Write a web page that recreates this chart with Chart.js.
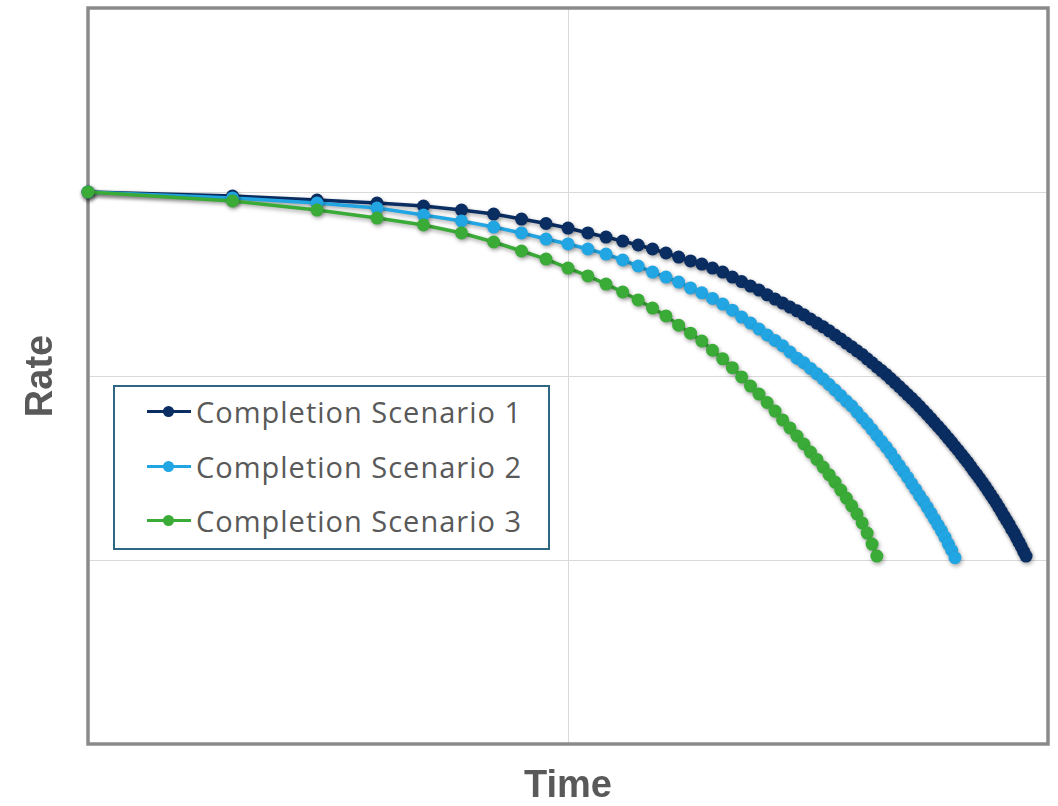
<!DOCTYPE html>
<html>
<head>
<meta charset="utf-8">
<title>Completion scenarios</title>
<script src="https://cdn.jsdelivr.net/npm/chart.js@4.4.1/dist/chart.umd.min.js"></script>
<style>
  html, body { margin: 0; padding: 0; background: #fff; }
  #wrap { position: relative; width: 1058px; height: 806px; }
  #legend {
    position: absolute; left: 113px; top: 385px; width: 437px; height: 165px;
    box-sizing: border-box; border: 2px solid #2f6682; background: #fff;
    font-family: "Open Sans", sans-serif; font-size: 29px; letter-spacing: 1px; color: #595959;
  }
  .row { position: absolute; left: 0; height: 30px; display: flex; align-items: center; white-space: nowrap; }
  .swatch { position: relative; width: 44px; height: 12px; margin-left: 32px; margin-right: 5px; }
  .swatch .ln { position: absolute; left: 0; right: 0; top: 4px; height: 3px; }
  .swatch .dot { position: absolute; left: 16px; top: 0; width: 11px; height: 11px; border-radius: 50%; }
  .row span.txt { line-height: 30px; }
</style>
</head>
<body>
<div id="wrap">
  <canvas id="rateChart" width="1058" height="806"></canvas>
  <div id="legend"></div>
</div>
<script>
// time steps (days), shared by all three scenarios
const days = [
  1, 2, 3, 4, 5, 6, 7, 8, 9, 10,
  11, 12, 13, 14, 15, 16, 17, 18, 19, 20,
  21, 22, 23, 24, 25, 26, 27, 28, 29, 30,
  31, 32, 33, 34, 35, 36, 37, 38, 39, 40,
  41, 42, 43, 44, 45, 46, 47, 48, 49, 50,
  51, 52, 53, 54, 55, 56, 57, 58, 59, 60,
  61, 62, 63, 64, 65, 66, 67, 68, 69, 70,
  71, 72, 73, 74, 75, 76, 77, 78, 79, 80,
  81, 82, 83, 84, 85, 86, 87, 88, 89, 90
];

const seriesNames = ["Completion Scenario 1", "Completion Scenario 2", "Completion Scenario 3"];

// rates per day
const scenario1 = [
  1000, 951, 905, 871, 839, 798, 759, 713, 674, 637,
  599, 569, 541, 515, 490, 466, 443, 422, 406, 386,
  367, 345, 326, 308, 293, 276, 262, 249, 237, 226,
  215, 204, 194, 185, 176, 167, 159, 151, 144, 137,
  131, 124, 118, 112, 107, 102, 96.8, 92.1, 87.6, 83.3,
  79.3, 75.6, 71.9, 68.4, 65.0, 61.8, 58.8, 55.9, 53.2, 50.7,
  48.2, 45.8, 43.6, 41.4, 39.5, 37.5, 35.7, 34.0, 32.3, 30.6,
  29.2, 27.8, 26.4, 25.1, 23.8, 22.6, 21.5, 20.4, 19.3, 18.3,
  17.3, 16.4, 15.6, 14.7, 14.0, 13.2, 12.5, 11.8, 11.1, 10.5
];
const scenario2 = [
  1000, 928, 871, 818, 750, 696, 645, 599, 555, 522,
  490, 460, 427, 396, 367, 345, 324, 301, 283, 264,
  246, 228, 209, 194, 180, 167, 156, 146, 135, 125,
  118, 110, 103, 96.3, 89.9, 83.9, 78.3, 73.1, 68.7, 63.7,
  59.1, 55.2, 51.2, 47.5, 44.1, 41.1, 38.1, 35.2, 32.6, 30.3,
  28.1, 26.0, 24.2, 22.4, 20.9, 19.4, 18.0, 16.7, 15.5, 14.4,
  13.3, 12.2, 11.3, 10.3
];
const scenario3 = [
  1000, 894, 798, 722, 662, 599, 535, 478, 432, 386,
  350, 316, 286, 259, 234, 212, 189, 171, 155, 138,
  124, 111, 98.8, 88.2, 79.8, 71.8, 64.5, 57.7, 52.2, 47.2,
  42.7, 38.6, 35.2, 32.0, 29.1, 26.5, 24.0, 21.7, 19.7, 17.8,
  15.9, 14.0, 12.2, 10.5
];

// gridline positions on the two log axes
const timeGrid = [1, 10, 100];
const rateGrid = [1, 10, 100, 1000, 10000];

const seriesColors = ["#0a2d62", "#22a6e3", "#3aab37"];

const allRates = [scenario1, scenario2, scenario3];
const datasets = allRates.map((rates, i) => ({
  label: seriesNames[i],
  data: rates.map((r, j) => ({ x: days[j], y: r })),
  borderColor: seriesColors[i],
  backgroundColor: seriesColors[i],
  borderWidth: 3.5,
  pointRadius: 6.5,
  pointBorderWidth: 0,
  pointHoverRadius: 6.5,
  tension: 0,
  clip: false,
  order: 3 - i // last scenario on top
}));

// grey box round the plot area
const plotFrame = {
  id: "plotFrame",
  beforeDatasetsDraw(chart) {
    const { ctx, chartArea: a } = chart;
    ctx.save();
    ctx.strokeStyle = "#8a8a8a";
    ctx.lineWidth = 3.5;
    ctx.strokeRect(a.left, a.top, a.right - a.left, a.bottom - a.top);
    ctx.restore();
  }
};

// soft drop shadow under each series
const lineShadow = {
  id: "lineShadow",
  beforeDatasetDraw(chart) {
    const ctx = chart.ctx;
    ctx.save();
    ctx.shadowColor = "rgba(0,0,0,0.35)";
    ctx.shadowBlur = 4;
    ctx.shadowOffsetX = 1;
    ctx.shadowOffsetY = 2;
  },
  afterDatasetDraw(chart) {
    chart.ctx.restore();
  }
};

const titleFont = { family: "'Liberation Sans', Arial, sans-serif", size: 38, weight: "bold", lineHeight: 1 };

const chart = new Chart(document.getElementById("rateChart"), {
  type: "line",
  data: { datasets: datasets },
  options: {
    responsive: false,
    animation: false,
    events: [],
    layout: { padding: { top: 8, right: 10, left: 0, bottom: 0 } },
    plugins: {
      legend: { display: false },
      tooltip: { enabled: false }
    },
    scales: {
      x: {
        type: "logarithmic",
        min: 1,
        max: 100,
        afterBuildTicks: axis => { axis.ticks = timeGrid.map(v => ({ value: v })); },
        ticks: { display: false },
        grid: { color: "#d9d9d9", lineWidth: 1, drawTicks: false },
        border: { display: false },
        title: { display: true, text: "Time", color: "#595959", font: titleFont, padding: { top: 24, bottom: 0 } }
      },
      y: {
        type: "logarithmic",
        min: 1,
        max: 10000,
        afterBuildTicks: axis => { axis.ticks = rateGrid.map(v => ({ value: v })); },
        ticks: { display: false },
        grid: { color: "#d9d9d9", lineWidth: 1, drawTicks: false },
        border: { display: false },
        title: { display: true, text: "Rate", color: "#595959", font: titleFont, padding: { top: 23, bottom: 27 } }
      }
    }
  },
  plugins: [plotFrame, lineShadow]
});

// legend box inside the plot, built from the datasets
const legendEl = document.getElementById("legend");
const rowCenters = [25, 80, 134];
chart.data.datasets.forEach((ds, i) => {
  const row = document.createElement("div");
  row.className = "row";
  row.style.top = (rowCenters[i] - 15) + "px";
  row.innerHTML =
    '<div class="swatch"><div class="ln" style="background:' + ds.borderColor + '"></div>' +
    '<div class="dot" style="background:' + ds.borderColor + '"></div></div>' +
    '<span class="txt">' + ds.label + '</span>';
  legendEl.appendChild(row);
});
</script>
</body>
</html>
